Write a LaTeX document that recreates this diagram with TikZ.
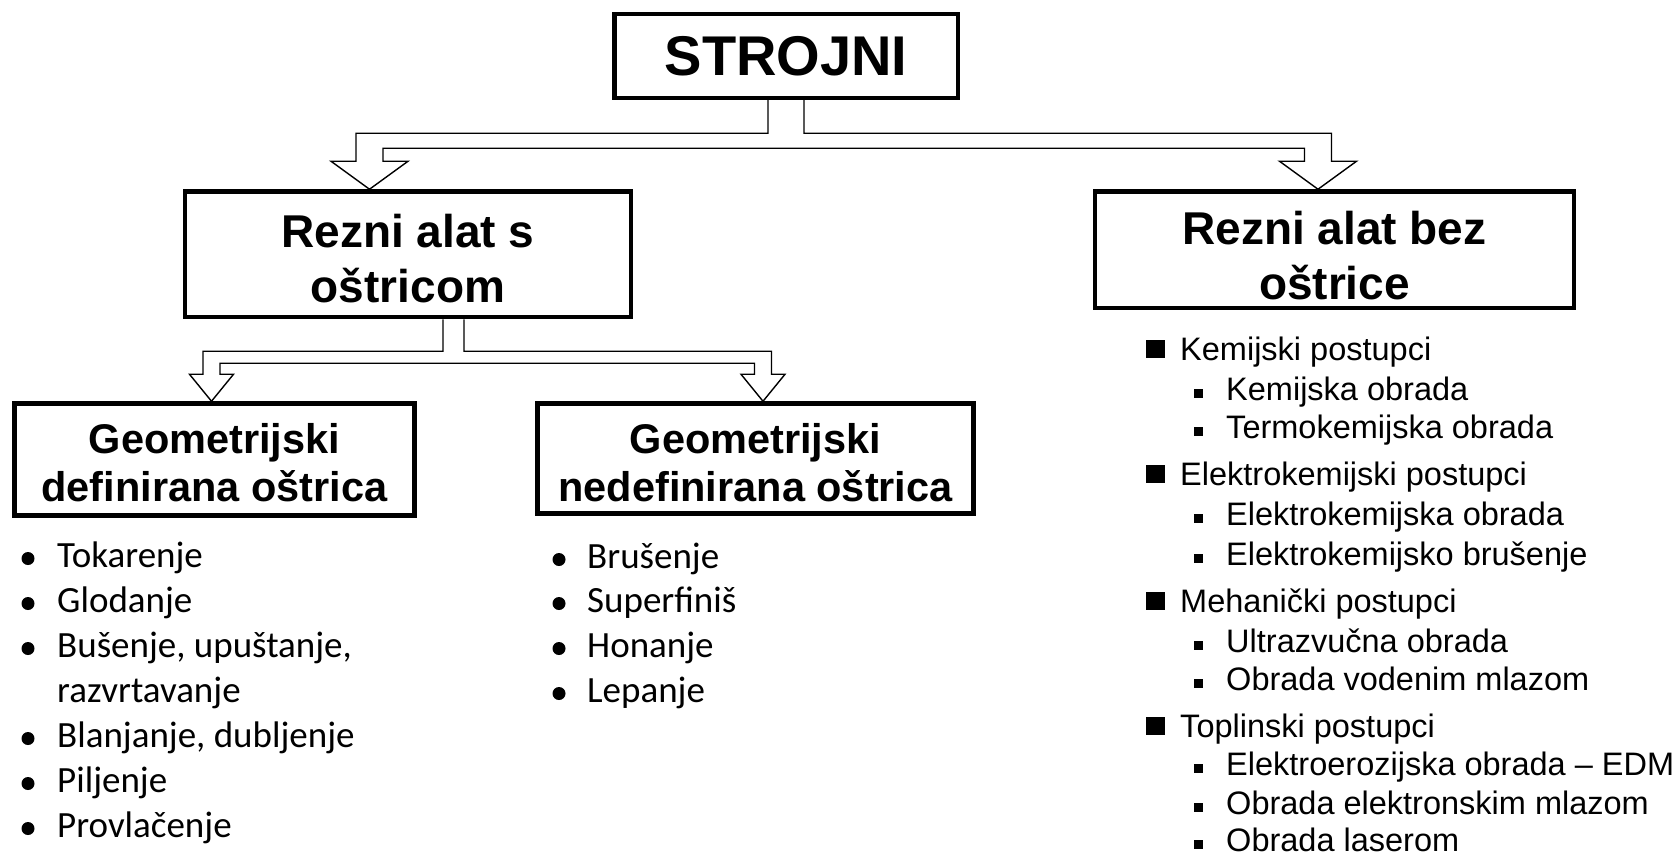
\documentclass[tikz,border=0pt]{standalone}
\usepackage{fontspec}
\setmainfont{Liberation Sans}
\newfontfamily\calfont{Carlito}
\usetikzlibrary{calc}

\newcommand{\topstrut}[1]{\rule{0pt}{#1}}

\tikzset{
  hbox/.style={draw, line width=4.5pt, inner sep=0pt, align=center},
  fork/.style={line width=1.4pt, line join=miter},
  item/.style={anchor=base west, inner sep=0pt},
}

\begin{document}
\begin{tikzpicture}[x=1pt,y=-1pt]
        \useasboundingbox (0,0) rectangle (1680,856);
        % boxes
        \node[hbox, minimum width=343.5pt, minimum height=84pt, font=\bfseries\fontsize{56}{60}\selectfont] (strojni) at (786,56) {STROJNI};
        \node[hbox, minimum width=446pt, minimum height=125.5pt, font=\bfseries\fontsize{46}{55}\selectfont] (rezS) at (408,254.25) {\topstrut{41.6pt}Rezni alat s\\oštricom};
        \node[hbox, minimum width=479pt, minimum height=116.5pt, font=\bfseries\fontsize{46}{55}\selectfont] (rezB) at (1334.5,249.75) {\topstrut{45.6pt}Rezni alat bez\\oštrice};
        \node[hbox, minimum width=400pt, minimum height=112pt, font=\bfseries\fontsize{41.5}{48}\selectfont] (geoD) at (214.5,459.5) {\topstrut{37.3pt}Geometrijski\\definirana oštrica};
        \node[hbox, minimum width=436pt, minimum height=110pt, font=\bfseries\fontsize{41.5}{48}\selectfont] (geoN) at (755.5,458.5) {\topstrut{39.3pt}Geometrijski\\nedefinirana oštrica};
        % hollow forks
        \coordinate (tA) at ($(rezS.north)+(-38.5,0)$);
        \coordinate (tB) at ($(rezB.north)+(-16.5,0)$);
        \coordinate (tC) at ($(geoD.north)+(-3,0)$);
        \coordinate (tD) at ($(geoN.north)+(7.5,0)$);
        \draw[fork] ($(strojni.south)+(-18,0)$) |- ($(tA)+(-13.5,-56)$) -- ($(tA)+(-13.5,-28)$)
        -- ($(tA)+(-38.5,-28)$) -- (tA) -- ($(tA)+(38.5,-28)$) -- ($(tA)+(13.5,-28)$)
        |- ($(tB)+(-13.5,-41)$) -- ($(tB)+(-13.5,-28)$) -- ($(tB)+(-38.5,-28)$) -- (tB)
        -- ($(tB)+(38.5,-28)$) -- ($(tB)+(13.5,-28)$) -- ($(tB)+(13.5,-56)$) -| ($(strojni.south)+(18,0)$);
        \draw[fork] ($(rezS.south)+(35,0)$) |- ($(tC)+(-8.5,-50)$) -- ($(tC)+(-8.5,-27)$)
        -- ($(tC)+(-22,-27)$) -- (tC) -- ($(tC)+(22,-27)$) -- ($(tC)+(8.5,-27)$)
        |- ($(tD)+(-8.5,-38)$) -- ($(tD)+(-8.5,-27)$) -- ($(tD)+(-22,-27)$) -- (tD)
        -- ($(tD)+(22,-27)$) -- ($(tD)+(8.5,-27)$) -- ($(tD)+(8.5,-50)$) -| ($(rezS.south)+(56,0)$);
        % lists
        \foreach \y/\t in {567/Tokarenje, 612/Glodanje, {657/Bušenje, upuštanje,}, {747/Blanjanje, dubljenje}, 792/Piljenje, 837/Provlačenje}{
            \fill (28,\y-8.5) circle (6.5);
            \node[item, font=\calfont\fontsize{37}{44}\selectfont] (ld\y) at (57,\y) {\t};
        }
        \node[item, font=\calfont\fontsize{37}{44}\selectfont] (ld702) at (57,702) {razvrtavanje};
        \foreach \y/\t in {568/Brušenje, 612/Superfiniš, 657/Honanje, 702/Lepanje}{
            \fill (559,\y-8.5) circle (6.5);
            \node[item, font=\calfont\fontsize{37}{44}\selectfont] (ln\y) at (587,\y) {\t};
        }
        \foreach \y/\t in {360/Kemijski postupci, 485/Elektrokemijski postupci, 612/Mehanički postupci, 737/Toplinski postupci}{
            \fill (1146,\y-20) rectangle (1165,\y-2);
            \node[item, font=\fontsize{32.5}{39}\selectfont] (rg\y) at (1180,\y) {\t};
        }
        \foreach \y/\t in {400/Kemijska obrada, 438/Termokemijska obrada, 525/Elektrokemijska obrada, 565/Elektrokemijsko brušenje, 652/Ultrazvučna obrada, 690/Obrada vodenim mlazom, 775/Elektroerozijska obrada – EDM, 814/Obrada elektronskim mlazom, 851/Obrada laserom}{
            \fill (1194,\y-11) rectangle (1203,\y-2);
            \node[item, font=\fontsize{32.5}{39}\selectfont] (rs\y) at (1226,\y) {\t};
        }
\end{tikzpicture}
\end{document}
